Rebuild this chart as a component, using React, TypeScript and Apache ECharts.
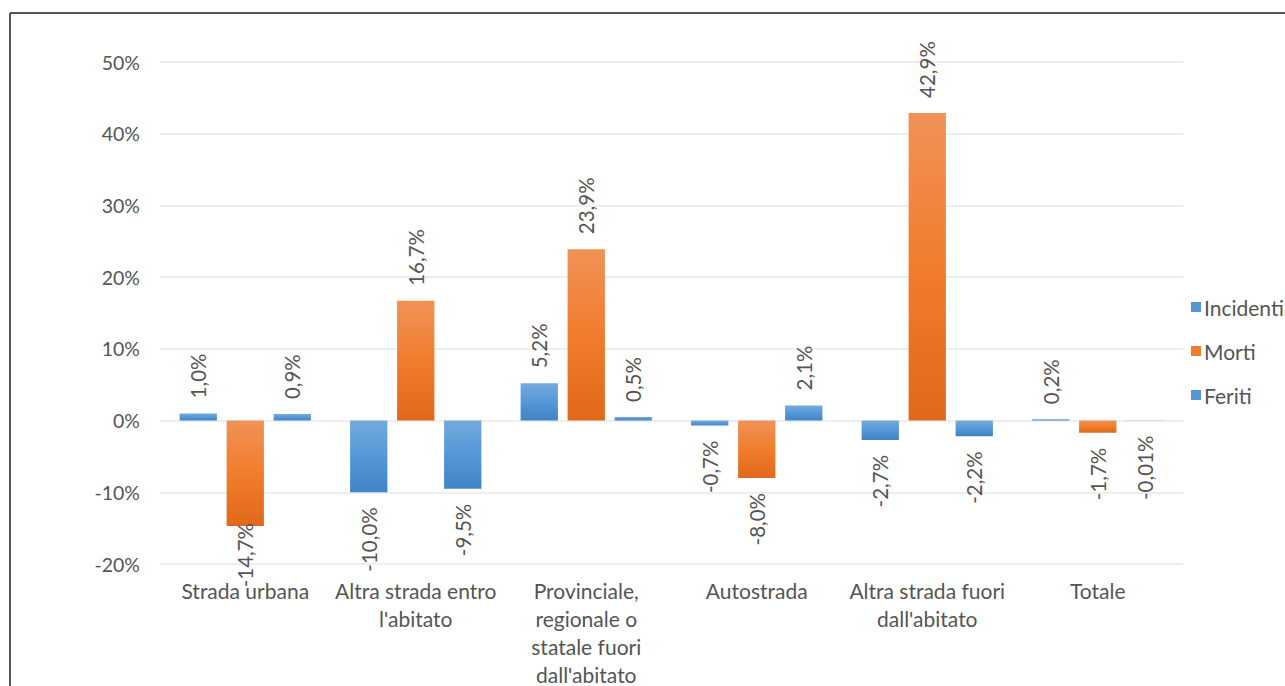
import React, { useEffect, useRef } from "react";
import * as echarts from "echarts";

const categories = [
  "Strada urbana",
  "Altra strada entro\nl'abitato",
  "Provinciale,\nregionale o\nstatale fuori\ndall'abitato",
  "Autostrada",
  "Altra strada fuori\ndall'abitato",
  "Totale",
];
const incidenti = [1.0, -10.0, 5.2, -0.7, -2.7, 0.2];
const morti = [-14.7, 16.7, 23.9, -8.0, 42.9, -1.7];
const feriti = [0.9, -9.5, 0.5, 2.1, -2.2, -0.01];
const seriesNames = ["Incidenti", "Morti", "Feriti"];
const yTicks = { min: -20, max: 50, interval: 10 };

const FONT = "Lato";
const TEXT = "#555555";

const fmt = (v: number) => {
  const digits = Math.abs(v) < 0.1 && v !== 0 ? 2 : 1;
  return v.toFixed(digits).replace(".", ",") + "%";
};

const blueGrad = new echarts.graphic.LinearGradient(0, 0, 0, 1, [
  { offset: 0, color: "#74aadd" },
  { offset: 0.5, color: "#5597d6" },
  { offset: 1, color: "#3f84c6" },
]);
const orangeGrad = new echarts.graphic.LinearGradient(0, 0, 0, 1, [
  { offset: 0, color: "#f19257" },
  { offset: 0.5, color: "#f07d2c" },
  { offset: 1, color: "#e0681a" },
]);

function buildData(values: number[]) {
  return values.map((v) => {
    const neg = v < 0;
    return {
      value: v,
      label: {
        position: neg ? "bottom" : "top",
        align: neg ? "right" : "left",
        verticalAlign: "middle",
        distance: neg && v < -12 ? -3 : 15,
      },
    };
  });
}

export default function App() {
  const ref = useRef<HTMLDivElement>(null);
  useEffect(() => {
    if (!ref.current) return;
    const chart = echarts.init(ref.current, undefined, { renderer: "svg" });
    const mk = (name: string, values: number[], color: any) => ({
      name,
      type: "bar",
      data: buildData(values),
      barCategoryGap: "23%",
      barGap: "26%",
      itemStyle: { color },
      label: {
        show: true,
        rotate: 90,
        formatter: (p: any) => fmt(p.value),
        color: TEXT,
        fontFamily: FONT,
        fontSize: 20.5,
      },
    });
    chart.setOption({
      animation: false,
      backgroundColor: "#ffffff",
      textStyle: { fontFamily: FONT },
      grid: {
        left: 160,
        right: 102,
        top: 62,
        bottom: 122,
        containLabel: false,
        outerBoundsMode: "none",
      },
      legend: {
        orient: "vertical",
        left: 1186,
        top: 291,
        icon: "rect",
        itemWidth: 10,
        itemHeight: 10,
        itemGap: 22,
        textStyle: { color: TEXT, fontFamily: FONT, fontSize: 21, lineHeight: 22, padding: [0, 0, 0, -2] },
        data: [
          { name: seriesNames[0], itemStyle: { color: "#5597d6" } },
          { name: seriesNames[1], itemStyle: { color: "#f07d2c" } },
          { name: seriesNames[2], itemStyle: { color: "#5597d6" } },
        ],
      },
      xAxis: {
        type: "category",
        data: categories,
        axisLine: { show: false, onZero: false },
        axisTick: { show: false },
        axisLabel: {
          color: TEXT,
          fontFamily: FONT,
          fontSize: 21,
          lineHeight: 28,
          margin: 12,
          interval: 0,
        },
      },
      yAxis: {
        type: "value",
        min: yTicks.min,
        max: yTicks.max,
        interval: yTicks.interval,
        axisLine: { show: false },
        axisTick: { show: false },
        splitLine: { lineStyle: { color: "#e8e9ec", width: 1.5 } },
        axisLabel: {
          color: TEXT,
          fontFamily: FONT,
          fontSize: 19.5,
          margin: 20,
          formatter: (v: number) => v + "%",
        },
      },
      graphic: [
        { type: "line", shape: { x1: 10, y1: 13, x2: 1285, y2: 13 }, style: { stroke: "#555555", lineWidth: 2 } },
        { type: "line", shape: { x1: 10, y1: 13, x2: 10, y2: 686 }, style: { stroke: "#555555", lineWidth: 2 } },
      ],
      series: [
        mk(seriesNames[0], incidenti, blueGrad),
        mk(seriesNames[1], morti, orangeGrad),
        mk(seriesNames[2], feriti, blueGrad),
      ],
    });
    return () => chart.dispose();
  }, []);
  return (
    <div
      ref={ref}
      style={{ position: "absolute", left: 0, top: 0, width: 1285, height: 686 }}
    />
  );
}
